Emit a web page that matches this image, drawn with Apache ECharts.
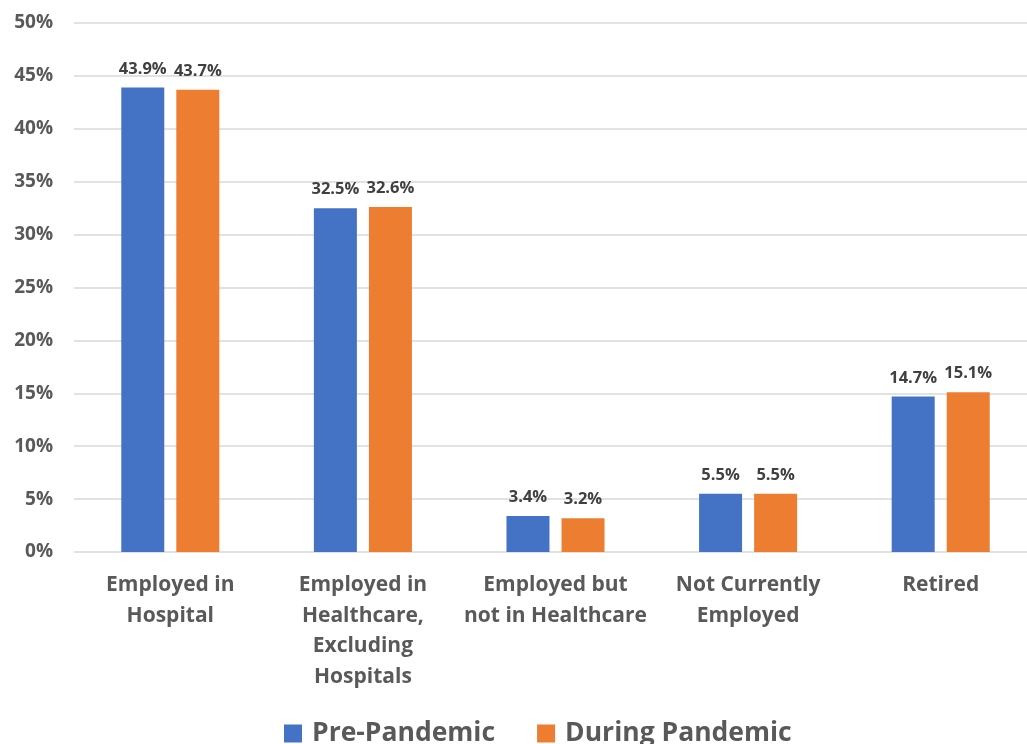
<!DOCTYPE html>
<html><head><meta charset="utf-8">
<script src="https://cdn.jsdelivr.net/npm/echarts@6/dist/echarts.min.js"></script>
<style>html,body{margin:0;padding:0;background:#fff}#c{width:1027px;height:744px}</style>
</head><body><div id="c"></div>
<script>
const categories = ["Employed in\nHospital", "Employed in\nHealthcare,\nExcluding\nHospitals", "Employed but\nnot in Healthcare", "Not Currently\nEmployed", "Retired"];
const prePandemic = [43.9, 32.5, 3.4, 5.5, 14.7];
const duringPandemic = [43.7, 32.6, 3.2, 5.5, 15.1];
const seriesNames = ["Pre-Pandemic", "During Pandemic"];
const FONT = "'Open Sans', sans-serif";
const chart = echarts.init(document.getElementById('c'));
const label = {show: true, position: 'top', distance: 10, formatter: p => p.value.toFixed(1) + '%', color: '#404040', fontWeight: 'bold', fontSize: 16.5, fontFamily: FONT};
chart.setOption({
  animation: false,
  grid: {left: 74, right: -10, top: 23, bottom: 192, containLabel: false, outerBoundsMode: 'none'},
  legend: {bottom: -8, left: 279, itemWidth: 18, itemHeight: 18, itemGap: 42, icon: 'rect',
    textStyle: {fontSize: 26.5, fontWeight: 'bold', color: '#595959', fontFamily: FONT, padding: [0, 0, 0, 5]}, data: seriesNames},
  xAxis: {type: 'category', data: categories, axisLine: {show: false}, axisTick: {show: false},
    axisLabel: {color: '#595959', fontSize: 21, fontWeight: 'bold', fontFamily: FONT, lineHeight: 30.5, margin: 18, interval: 0}},
  yAxis: {type: 'value', min: 0, max: 50, interval: 5,
    axisLabel: {formatter: '{value}%', color: '#595959', fontSize: 19, fontWeight: 'bold', fontFamily: FONT, margin: 21},
    splitLine: {lineStyle: {color: '#d9d9d9', width: 1.5}}, axisLine: {show: false}, axisTick: {show: false}},
  series: [
    {name: seriesNames[0], type: 'bar', data: prePandemic, itemStyle: {color: '#4472c4'}, barWidth: 43, barGap: '28%', label: label},
    {name: seriesNames[1], type: 'bar', data: duringPandemic, itemStyle: {color: '#ed7d31'}, barWidth: 43, barGap: '28%', label: label}
  ]
});
</script></body></html>
